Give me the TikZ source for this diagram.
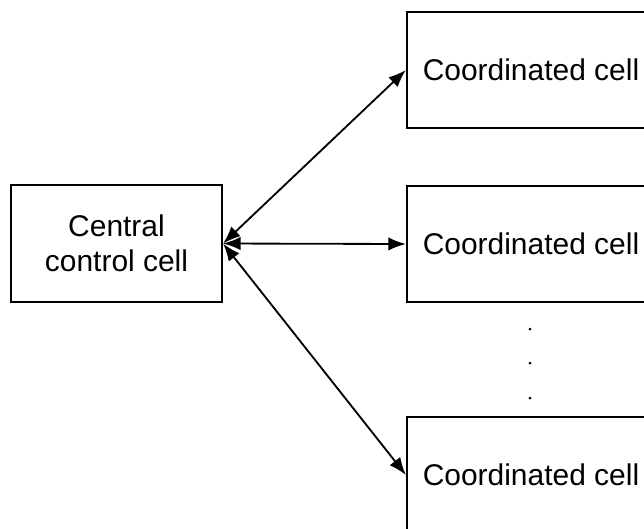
\documentclass[tikz,border=0pt]{standalone}
\usepackage{fontspec}
\setmainfont{Liberation Sans}
\usepackage{tikz}
\usetikzlibrary{arrows.meta}

\tikzset{
  cellbox/.style={draw, line width=1.5pt, align=center, inner sep=0pt,
    font=\fontsize{21.3}{24.9}\selectfont},
  link/.style={{Latex[length=12.5pt,width=9.5pt]}-{Latex[length=12.5pt,width=9.5pt]}, line width=1.3pt}
}

\begin{document}
\begin{tikzpicture}[x=0.025cm, y=-0.025cm]
\clip (0,0) rectangle (644,528);

\node[cellbox, minimum width=5.275cm, minimum height=2.925cm] (central) at (116.5,243.5)
{Central\\control cell};

\node[cellbox, minimum width=6.2cm, minimum height=2.9cm] (cell1) at (531,70)
{Coordinated cell};

\node[cellbox, minimum width=6.2cm, minimum height=2.9cm] (cell2) at (531,244)
{Coordinated cell};

\node[cellbox, minimum width=6.2cm, minimum height=2.9cm] (cell3) at (531,475)
{Coordinated cell};

\draw[link] (central.east) -- (cell1.west);

\draw[link] (central.east) -- (cell2.west);

\draw[link] (central.east) -- (cell3.west);

\foreach \y in {329,363,398}
  \fill (530,\y) circle (1.5);
\end{tikzpicture}
\end{document}
